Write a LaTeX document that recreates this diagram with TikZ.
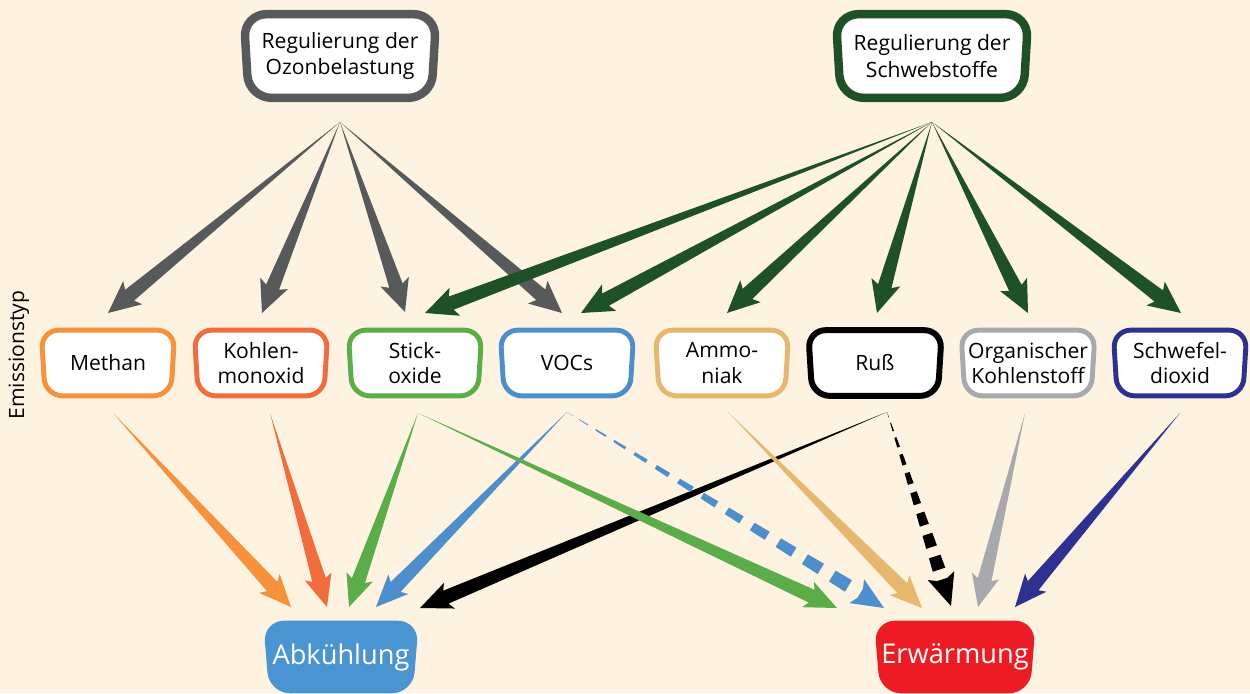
\documentclass[tikz,border=0pt]{standalone}
\usepackage{fontspec}
\setmainfont{Open Sans}
\usetikzlibrary{calc}
\pgfdeclarelayer{back}
\pgfdeclarelayer{boxes}
\pgfsetlayers{back,boxes,main}
\definecolor{bg}{HTML}{FEF3E0}
\definecolor{ozgray}{HTML}{58595B}
\definecolor{dgreen}{HTML}{1F5127}
\definecolor{cmeth}{HTML}{F7923A}
\definecolor{ckohl}{HTML}{F26D3D}
\definecolor{cstick}{HTML}{5BAD47}
\definecolor{cvoc}{HTML}{4D8FCC}
\definecolor{camm}{HTML}{E6B76C}
\definecolor{corg}{HTML}{A7A9AC}
\definecolor{cschw}{HTML}{2E3192}
\definecolor{cabk}{HTML}{4A94D2}
\definecolor{cerw}{HTML}{ED1C24}
% tapered arrow: color, from, to, shaft half width, head half width, head length (cm)
\newcommand\taper[6]{%
  \coordinate (tB) at ($(#3)!#6cm!(#2)$);
  \coordinate (tN) at ($(#3)!#6cm+0.08cm!(#2)$);
  \fill[#1] (#2) -- ($(tB)!#4cm!90:(#3)$) -- ($(tN)!#5cm!90:(#3)$) -- (#3)
     -- ($(tN)!#5cm!-90:(#3)$) -- ($(tB)!#4cm!-90:(#3)$) -- cycle;}
% dashed tapered arrow: color, from, to, shaft half width, head half width, head length, dashes
\newcommand\dtaper[7]{%
  \coordinate (tB) at ($(#3)!#6cm!(#2)$);
  \coordinate (tN) at ($(#3)!#6cm+0.08cm!(#2)$);
  \fill[#1] ($(tB)!#4cm*0.75!90:(#3)$) -- ($(tN)!#5cm!90:(#3)$) -- (#3)
     -- ($(tN)!#5cm!-90:(#3)$) -- ($(tB)!#4cm*0.75!-90:(#3)$) -- cycle;
  \foreach \i in {1,...,#7}{%
    \pgfmathsetmacro\ta{((\i-1)/#7)^1.25}%
    \pgfmathsetmacro\tb{((\i-0.42)/#7)^1.25}%
    \pgfmathsetmacro\wa{\ta*#4}%
    \pgfmathsetmacro\wb{\tb*#4}%
    \coordinate (dA) at ($(#2)!\ta!(tB)$);
    \coordinate (dB) at ($(#2)!\tb!(tB)$);
    \fill[#1] ($(dA)!\wa cm!90:(tB)$) -- ($(dB)!\wb cm!90:(tB)$)
       -- ($(dB)!\wb cm!-90:(tB)$) -- ($(dA)!\wa cm!-90:(tB)$) -- cycle;
  }}
% box frame: node, draw options, bottom inset (px)
\newcommand\frameit[3]{%
  \begin{pgfonlayer}{boxes}
  \path[#2] ($(#1.north west)+(-1,0)$) -- ($(#1.north east)+(1,0)$)
     -- ($(#1.south east)+(-#3,0)$) -- ($(#1.south west)+(#3,0)$) -- cycle;
  \end{pgfonlayer}}
\tikzset{
  topbox/.style={minimum width=3.8cm, minimum height=1.66cm, align=center,
    font=\fontsize{12}{15}\selectfont},
  embox/.style={minimum width=2.62cm, minimum height=1.3cm, align=center,
    font=\fontsize{12}{14.4}\selectfont},
  effbox/.style={minimum width=3.06cm, minimum height=1.44cm, text=white,
    font=\fontsize{15.5}{18}\selectfont},
  topframe/.style={draw=#1, line width=4.8pt, fill=white, rounded corners=13pt},
  emframe/.style={draw=#1, line width=2.8pt, fill=white, rounded corners=10pt},
  efframe/.style={fill=#1, rounded corners=12pt},
}
\begin{document}
\begin{tikzpicture}[x=0.02cm,y=-0.02cm]
\begin{pgfonlayer}{back}
\fill[bg] (0,0) rectangle (1250,693);
\end{pgfonlayer}
\useasboundingbox (0,0) rectangle (1250,693);

% top boxes
\node[topbox] (oz) at (340,56) {Regulierung der\\Ozonbelastung};
\node[topbox] (sw) at (932,56) {Regulierung der\\Schwebstoffe};
\frameit{oz}{topframe=ozgray}{4}
\frameit{sw}{topframe=dgreen}{4}
\coordinate (ozs) at (340,122);
\coordinate (sws) at (932,122);

% emission boxes
\node[embox] (meth) at (108,363) {Methan};
\node[embox] (kohl) at (261,363) {Kohlen-\\monoxid};
\node[embox] (stick) at (415,363) {Stick-\\oxide};
\node[embox] (voc) at (567,363) {VOCs};
\node[embox] (amm) at (722,363) {Ammo-\\niak};
\node[embox] (russ) at (875,363) {Ruß};
\node[embox] (org) at (1028,363) {Organischer\\Kohlenstoff};
\node[embox] (schw) at (1180,363) {Schwefel-\\dioxid};
\frameit{meth}{emframe=cmeth}{3}
\frameit{kohl}{emframe=ckohl}{3}
\frameit{stick}{emframe=cstick}{3}
\frameit{voc}{emframe=cvoc}{3}
\frameit{amm}{emframe=camm}{3}
\frameit{russ}{emframe=black, line width=3.4pt}{3}
\frameit{org}{emframe=corg}{3}
\frameit{schw}{emframe=cschw}{3}

\node[rotate=90, font=\fontsize{12}{14}\selectfont] (etyp) at (19,355) {Emissionstyp};

% effect boxes
\node[effbox] (abk) at (341,657) {Abkühlung};
\node[effbox] (erw) at (955,657) {Erwärmung};
\frameit{abk}{efframe=cabk}{5}
\frameit{erw}{efframe=cerw}{5}

% tips into emission boxes (from top)
\coordinate (meth-t) at (108,313);
\coordinate (kohl-t) at (262,313);
\coordinate (stick-t1) at (405,312);
\coordinate (voc-t1) at (562,313);
\coordinate (stick-t2) at (425,313);
\coordinate (voc-t2) at (581,313);
\coordinate (amm-t) at (727,313);
\coordinate (russ-t) at (877,313);
\coordinate (org-t) at (1028,313);
\coordinate (schw-t) at (1181,313);

% ozone arrows
\taper{ozgray}{ozs}{meth-t}{0.14}{0.3}{0.56}
\taper{ozgray}{ozs}{kohl-t}{0.14}{0.3}{0.56}
\taper{ozgray}{ozs}{stick-t1}{0.14}{0.3}{0.56}
\taper{ozgray}{ozs}{voc-t1}{0.14}{0.3}{0.56}
% schwebstoff arrows
\taper{dgreen}{sws}{stick-t2}{0.14}{0.3}{0.56}
\taper{dgreen}{sws}{voc-t2}{0.14}{0.3}{0.56}
\taper{dgreen}{sws}{amm-t}{0.14}{0.3}{0.56}
\taper{dgreen}{sws}{russ-t}{0.14}{0.3}{0.56}
\taper{dgreen}{sws}{org-t}{0.14}{0.3}{0.56}
\taper{dgreen}{sws}{schw-t}{0.14}{0.3}{0.56}

% sources at bottom of emission boxes
\coordinate (meth-b) at (113,413);
\coordinate (kohl-b) at (270,413);
\coordinate (stick-b) at (418,413);
\coordinate (voc-b) at (567,412);
\coordinate (amm-b) at (728,412);
\coordinate (russ-b) at (887,412);
\coordinate (org-b) at (1025,413);
\coordinate (schw-b) at (1180,413);

% tips into effect boxes
\coordinate (abk-1) at (291,607);
\coordinate (abk-2) at (327,607);
\coordinate (abk-3) at (349,607);
\coordinate (abk-4) at (376,607);
\coordinate (abk-5) at (420,608);
\coordinate (erw-1) at (837,608);
\coordinate (erw-2) at (884,608);
\coordinate (erw-3) at (922,608);
\coordinate (erw-4) at (951,606);
\coordinate (erw-5) at (978,607);
\coordinate (erw-6) at (1015,607);

\taper{cmeth}{meth-b}{abk-1}{0.14}{0.28}{0.56}
\taper{ckohl}{kohl-b}{abk-2}{0.14}{0.28}{0.56}
\taper{cstick}{stick-b}{abk-3}{0.14}{0.28}{0.56}
\taper{cvoc}{voc-b}{abk-4}{0.14}{0.28}{0.56}
\taper{black}{russ-b}{abk-5}{0.14}{0.28}{0.56}
\taper{cstick}{stick-b}{erw-1}{0.14}{0.28}{0.56}
\dtaper{cvoc}{voc-b}{erw-2}{0.14}{0.28}{0.56}{13}
\taper{camm}{amm-b}{erw-3}{0.14}{0.28}{0.56}
\dtaper{black}{russ-b}{erw-4}{0.14}{0.28}{0.56}{9}
\taper{corg}{org-b}{erw-5}{0.14}{0.28}{0.56}
\taper{cschw}{schw-b}{erw-6}{0.14}{0.28}{0.56}
\end{tikzpicture}
\end{document}
